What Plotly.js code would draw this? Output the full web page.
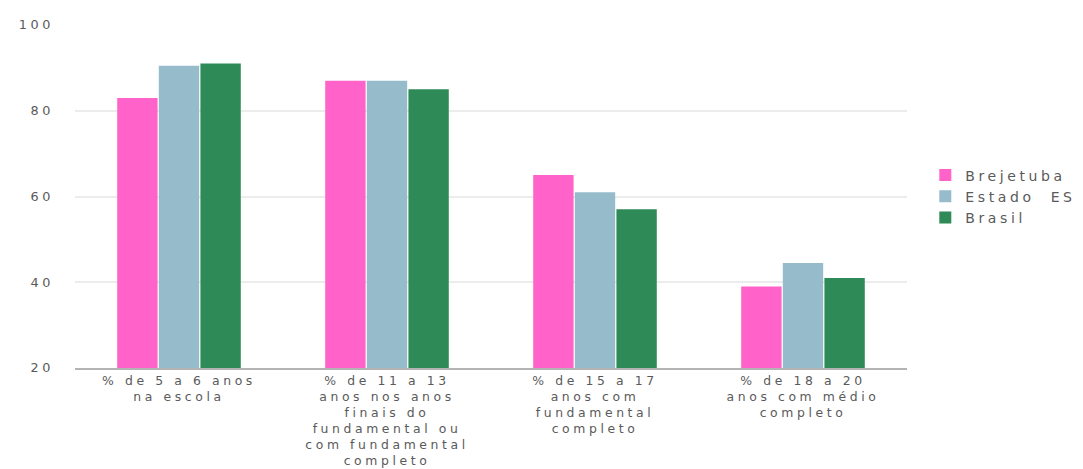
<!DOCTYPE html>
<html>
<head>
<meta charset="utf-8">
<script src="https://cdn.plot.ly/plotly-3.0.1.min.js"></script>
<style>
  html, body { margin: 0; padding: 0; background: #fff; }
  #chart { width: 1083px; height: 469px; }
  text { letter-spacing: 3.6px; }
</style>
</head>
<body>
<div id="chart"></div>
<script>
const categories = [
  "% de 5 a 6 anos<br>na escola",
  "% de 11 a 13<br>anos nos anos<br>finais do<br>fundamental ou<br>com fundamental<br>completo",
  "% de 15 a 17<br>anos com<br>fundamental<br>completo",
  "% de 18 a 20<br>anos com médio<br>completo"
];
const seriesNames = ["Brejetuba", "Estado\u00a0 ES", "Brasil"];
const brejetuba = [83, 87, 65, 39];
const estadoES = [90.5, 87, 61, 44.5];
const brasil = [91, 85, 57, 41];
const colors = ["#FF62C8", "#96BCCC", "#2E8A57"];

const seriesValues = [brejetuba, estadoES, brasil];
const traces = seriesValues.map((vals, i) => ({
  type: "bar",
  name: seriesNames[i],
  x: categories,
  y: vals,
  marker: { color: colors[i] },
  hoverinfo: "name+y"
}));

const layout = {
  width: 1083,
  height: 469,
  margin: { l: 75, r: 176, t: 25, b: 101, autoexpand: false },
  paper_bgcolor: "#ffffff",
  plot_bgcolor: "#ffffff",
  font: { family: "DejaVu Sans, Liberation Sans, Arial, sans-serif", size: 12.4, color: "#5a5a5a" },
  barmode: "group",
  bargap: 0.4,
  bargroupgap: 0.03,
  showlegend: true,
  legend: {
    x: 1.022, xanchor: "left",
    y: 0.5, yanchor: "middle",
    font: { size: 14, color: "#5a5a5a" },
    itemwidth: 30
  },
  xaxis: {
    type: "category",
    showgrid: false,
    showline: true,
    linecolor: "#b4b4b4",
    linewidth: 2,
    ticks: "",
    tickangle: 0,
    tickfont: { size: 12.4, color: "#5a5a5a" }
  },
  yaxis: {
    range: [20, 100],
    tickvals: [20, 40, 60, 80, 100],
    showgrid: true,
    gridcolor: "#ececec",
    gridwidth: 2,
    zeroline: false,
    showline: false,
    ticks: "",
    ticklabelstandoff: 20,
    tickfont: { size: 12.8, color: "#5a5a5a" }
  }
};

Plotly.newPlot("chart", traces, layout, { displayModeBar: false, staticPlot: true });
</script>
</body>
</html>
